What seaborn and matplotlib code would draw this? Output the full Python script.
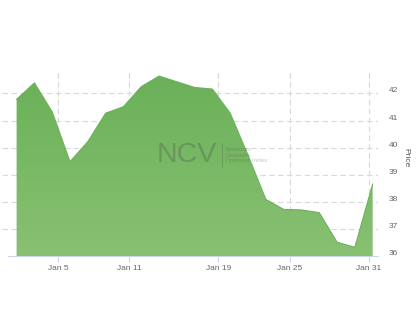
import numpy as np
import pandas as pd
import matplotlib
matplotlib.use("Agg")
import matplotlib.pyplot as plt
import matplotlib.transforms as mtransforms
import seaborn as sns

# ---- data ----
point_index = list(range(21))
price = [41.78, 42.39, 41.32, 39.48, 40.22, 41.27, 41.51, 42.25, 42.64, 42.43,
         42.22, 42.16, 41.27, 39.72, 38.09, 37.72, 37.70, 37.60, 36.51, 36.32, 38.66]
tick_labels = ["Jan 5", "Jan 11", "Jan 19", "Jan 25", "Jan 31"]
tick_index = [2.34, 6.33, 11.33, 15.35, 19.79]
y_ticks = [36, 37, 38, 39, 40, 41, 42]

df = pd.DataFrame({"idx": point_index, "price": price})

sns.set_theme(style="white")
plt.rcParams["font.family"] = ["Liberation Sans", "DejaVu Sans"]

fig = plt.figure(figsize=(4.2, 3.22), dpi=100)
ax = fig.add_axes([2 / 420, 1 - 256 / 322, 376 / 420, 184 / 322])

xmin, xmax = -0.82, 20.3
ymin, ymax = 36, 42.79

# grid
for y in y_ticks[1:]:
    ax.axhline(y, color="#d9d9d9", lw=0.8, ls=(0, (5, 3)), zorder=0)
for x in tick_index:
    ax.axvline(x, color="#d9d9d9", lw=0.8, ls=(0, (5, 3)), zorder=0)

# area with vertical gradient
top_c = np.array([106, 176, 88]) / 255
bot_c = np.array([136, 193, 114]) / 255
grad = np.linspace(0, 1, 256)[:, None]
img = top_c[None, None, :] * (1 - grad[..., None]) + bot_c[None, None, :] * grad[..., None]
poly = ax.fill_between(df["idx"], df["price"], ymin, color="none", lw=0, zorder=2)
im = ax.imshow(img, extent=[xmin, xmax, ymin, ymax], aspect="auto", origin="upper", zorder=2)
path = poly.get_paths()[0]
im.set_clip_path(path, transform=ax.transData)
sns.lineplot(data=df, x="idx", y="price", ax=ax, color="#6cb25a", lw=0.8, zorder=3)

ax.set_xlim(xmin, xmax)
ax.set_ylim(ymin, ymax)

# axes styling
for s in ["top", "left", "right"]:
    ax.spines[s].set_visible(False)
ax.spines["bottom"].set_color("#ccd6eb")
ax.spines["bottom"].set_linewidth(0.8)
ax.spines["bottom"].set_bounds(-0.5, xmax)

ax.set_xticks(tick_index)
ax.set_xticklabels(tick_labels)
ax.tick_params(axis="x", length=4, width=0.8, color="#ccd6eb", pad=2.5,
               labelsize=6, labelcolor="#666666", bottom=True)

ax.yaxis.tick_right()
ax.set_yticks(y_ticks)
ax.set_yticklabels([str(v) for v in y_ticks])
ax.tick_params(axis="y", length=0, pad=8, labelsize=6, labelcolor="#666666", right=True, left=False)
offset = mtransforms.ScaledTranslation(0, 3.5 / 100, fig.dpi_scale_trans)
for lab in ax.get_yticklabels():
    lab.set_transform(lab.get_transform() + offset)

ax.set_xlabel("")
ax.set_ylabel("")
fig.text(406 / 420, 1 - 158 / 322, "Price", rotation=270, ha="center", va="center",
         fontsize=6, color="#555555")

# watermark
fig.text(157 / 420, 1 - 155 / 322, "NCV", fontsize=20.5, color="#4a4a4a", alpha=0.3,
         ha="left", va="center", zorder=5)
fig.add_artist(plt.Line2D([221.5 / 420, 221.5 / 420], [1 - 143 / 322, 1 - 167 / 322],
                          color="#4a4a4a", alpha=0.3, lw=0.6, transform=fig.transFigure))
fig.text(225 / 420, 1 - 155 / 322, "American\nCannabis\nOperator Index", fontsize=4.6,
         color="#4a4a4a", alpha=0.3, ha="left", va="center", linespacing=1.2)

fig.savefig("out.png", dpi=100)
